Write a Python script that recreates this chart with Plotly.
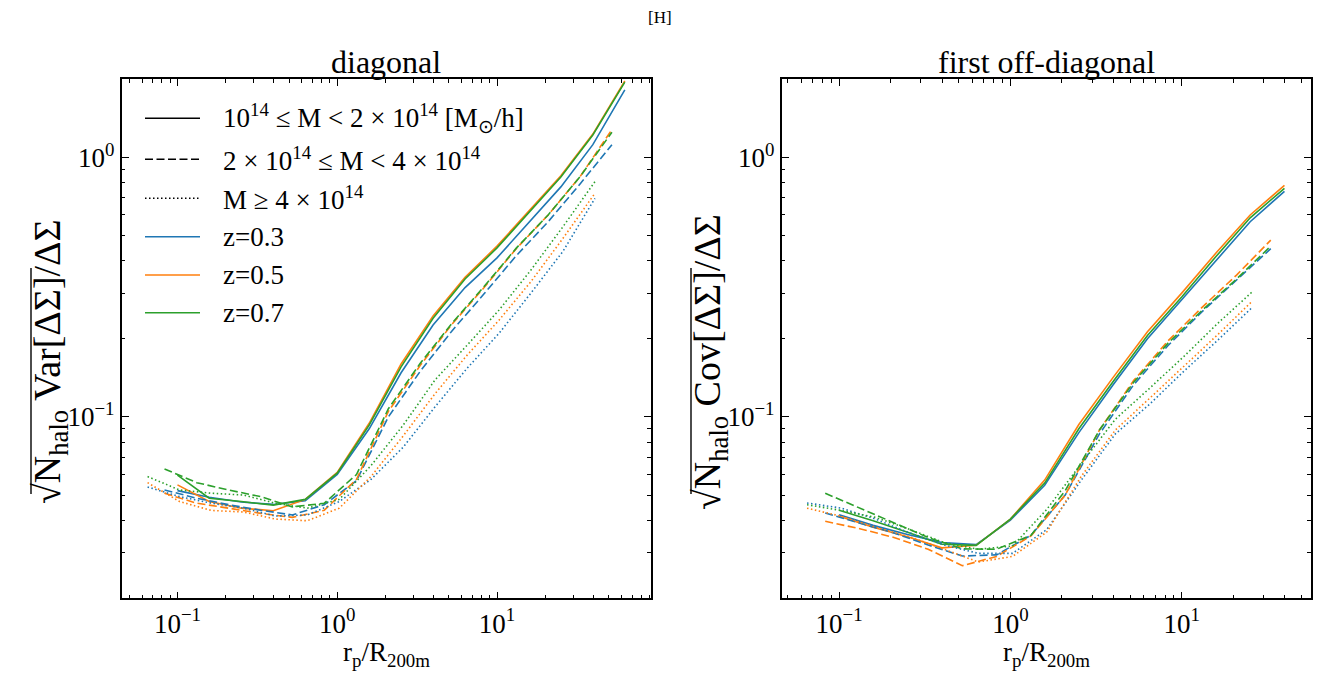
import plotly.graph_objects as go

# ---------------- data ----------------
# radial bins (r_p / R200m) for the three mass bins
x_m1 = [0.1, 0.158, 0.251, 0.398, 0.631, 1.0, 1.585, 2.51, 3.98, 6.31, 10.0, 15.85, 25.1, 39.8, 63.1]
x_m2 = [0.083, 0.132, 0.209, 0.331, 0.524, 0.83, 1.32, 2.09, 3.31, 5.24, 8.3, 13.2, 20.9, 33.1, 52.4]
x_m3 = [0.065, 0.103, 0.163, 0.259, 0.41, 0.65, 1.03, 1.63, 2.59, 4.1, 6.5, 10.3, 16.3, 25.9, 41.0]

# diagonal: sqrt(N Var)/DeltaSigma
diag_m1_z03 = [0.052, 0.049, 0.047, 0.046, 0.0475, 0.060, 0.090, 0.148, 0.226, 0.315, 0.410, 0.560, 0.770, 1.12, 1.82]
diag_m1_z05 = [0.0547, 0.0472, 0.0445, 0.0435, 0.0481, 0.0611, 0.0945, 0.160, 0.245, 0.345, 0.455, 0.620, 0.850, 1.23, 1.97]
diag_m1_z07 = [0.0597, 0.0486, 0.0472, 0.0457, 0.0481, 0.0607, 0.093, 0.156, 0.240, 0.340, 0.448, 0.611, 0.840, 1.22, 1.95]
diag_m2_z03 = [0.0523, 0.0486, 0.0459, 0.0437, 0.0419, 0.0459, 0.0568, 0.100, 0.150, 0.215, 0.298, 0.418, 0.565, 0.790, 1.12]
diag_m2_z05 = [0.0508, 0.0465, 0.0445, 0.0425, 0.041, 0.0437, 0.0575, 0.105, 0.158, 0.228, 0.315, 0.445, 0.600, 0.843, 1.28]
diag_m2_z07 = [0.063, 0.0558, 0.0523, 0.0493, 0.0450, 0.0465, 0.060, 0.1075, 0.161, 0.230, 0.318, 0.447, 0.600, 0.843, 1.25]
diag_m3_z03 = [0.0537, 0.0493, 0.0465, 0.0445, 0.0415, 0.0419, 0.0472, 0.0575, 0.0765, 0.1095, 0.154, 0.210, 0.300, 0.435, 0.695]
diag_m3_z05 = [0.0558, 0.0472, 0.0436, 0.0430, 0.0404, 0.0398, 0.0445, 0.059, 0.0845, 0.123, 0.173, 0.236, 0.332, 0.488, 0.727]
diag_m3_z07 = [0.0589, 0.0523, 0.0508, 0.0500, 0.0465, 0.0445, 0.0481, 0.065, 0.093, 0.139, 0.189, 0.258, 0.368, 0.541, 0.806]

# first off-diagonal: sqrt(N Cov)/DeltaSigma
off_m1_z03 = [0.0420, 0.0382, 0.0352, 0.0328, 0.0322, 0.0400, 0.0545, 0.087, 0.133, 0.200, 0.283, 0.400, 0.565, 0.74]
off_m1_z05 = [0.0414, 0.0376, 0.0345, 0.0313, 0.0320, 0.0404, 0.0571, 0.0935, 0.142, 0.213, 0.300, 0.428, 0.600, 0.78]
off_m1_z07 = [0.0437, 0.0398, 0.0359, 0.0323, 0.0320, 0.0404, 0.0556, 0.090, 0.137, 0.206, 0.290, 0.415, 0.585, 0.76]
off_m2_z03 = [0.0426, 0.0391, 0.0357, 0.0321, 0.0291, 0.0294, 0.0350, 0.050, 0.086, 0.133, 0.188, 0.255, 0.338, 0.445]
off_m2_z05 = [0.0396, 0.0371, 0.0343, 0.0309, 0.0267, 0.0290, 0.0348, 0.050, 0.089, 0.138, 0.196, 0.265, 0.352, 0.48]
off_m2_z07 = [0.0508, 0.0445, 0.0391, 0.0343, 0.0310, 0.0309, 0.0350, 0.052, 0.089, 0.136, 0.192, 0.258, 0.340, 0.455]
off_m3_z03 = [0.0466, 0.0445, 0.0404, 0.0357, 0.0321, 0.0298, 0.0298, 0.0368, 0.057, 0.086, 0.112, 0.150, 0.198, 0.265]
off_m3_z05 = [0.0445, 0.0414, 0.0376, 0.0345, 0.0309, 0.0276, 0.0290, 0.0360, 0.059, 0.089, 0.118, 0.157, 0.208, 0.280]
off_m3_z07 = [0.0459, 0.0436, 0.0410, 0.0368, 0.0328, 0.0309, 0.0318, 0.0440, 0.066, 0.098, 0.129, 0.171, 0.230, 0.304]

z_labels = ["z=0.3", "z=0.5", "z=0.7"]
mass_labels = [
    "10<sup>14</sup> ≤ M &lt; 2 × 10<sup>14</sup> [M<sub>⊙</sub>/h]",
    "2 × 10<sup>14</sup> ≤ M &lt; 4 × 10<sup>14</sup>",
    "M ≥ 4 × 10<sup>14</sup>",
]
x_tick_vals = [0.1, 1, 10]
x_tick_text = ["10<sup>−1</sup>", "10<sup>0</sup>", "10<sup>1</sup>"]
y_tick_vals = [0.1, 1]
y_tick_text = ["10<sup>−1</sup>", "10<sup>0</sup>"]

# ---------------- styles ----------------
PAGE_W, PAGE_H, OFF = 1325, 682, 8          # page size and html body margin
W, H = PAGE_W - 2 * OFF, PAGE_H - 2 * OFF   # figure size
colors = ["#1f77b4", "#ff7f0e", "#2ca02c"]
dashes = ["solid", "8px,3.5px", "1.5px,2.5px"]
FONT = "Liberation Serif"
LW = 1.6

xs = [x_m1, x_m2, x_m3]
diag = [[diag_m1_z03, diag_m1_z05, diag_m1_z07],
        [diag_m2_z03, diag_m2_z05, diag_m2_z07],
        [diag_m3_z03, diag_m3_z05, diag_m3_z07]]
off = [[off_m1_z03, off_m1_z05, off_m1_z07],
       [off_m2_z03, off_m2_z05, off_m2_z07],
       [off_m3_z03, off_m3_z05, off_m3_z07]]

fig = go.Figure()
for m in range(3):
    for z in range(3):
        fig.add_trace(go.Scatter(x=xs[m], y=diag[m][z], mode="lines", xaxis="x", yaxis="y",
                                 line=dict(color=colors[z], width=LW, dash=dashes[m]),
                                 showlegend=False, name=z_labels[z]))
for m in range(3):
    for z in range(3):
        fig.add_trace(go.Scatter(x=xs[m][:len(off[m][z])], y=off[m][z], mode="lines", xaxis="x2", yaxis="y2",
                                 line=dict(color=colors[z], width=LW, dash=dashes[m]),
                                 showlegend=False, name=z_labels[z]))


def px(v):
    return (v - OFF) / W


def py(v):
    return 1 - (v - OFF) / H


axis_common = dict(type="log", showline=True, linecolor="black", linewidth=1.6, mirror="allticks",
                   ticks="inside", ticklen=7, tickwidth=1.2, tickcolor="black",
                   showgrid=False, zeroline=False,
                   tickfont=dict(family=FONT, size=27, color="black"),
                   minor=dict(ticks="inside", ticklen=3.5, tickwidth=1, tickcolor="black", dtick="D1", showgrid=False))

ydom = [py(598.3), py(79.3)]
fig.update_layout(
    width=W, height=H, margin=dict(l=0, r=0, t=0, b=0),
    paper_bgcolor="white", plot_bgcolor="white", showlegend=False,
    xaxis=dict(domain=[px(121.7), px(650.7)], range=[-1.349, 1.962], anchor="y",
               tickvals=x_tick_vals, ticktext=x_tick_text, automargin=False, **axis_common),
    yaxis=dict(domain=ydom, range=[-1.699, 0.301], anchor="x",
               tickvals=y_tick_vals, ticktext=y_tick_text, automargin=False, **axis_common),
    xaxis2=dict(domain=[px(781.7), px(1310.7)], range=[-1.335, 1.753], anchor="y2",
                tickvals=x_tick_vals, ticktext=x_tick_text, automargin=False, **axis_common),
    yaxis2=dict(domain=ydom, range=[-1.699, 0.301], anchor="x2",
                tickvals=y_tick_vals, ticktext=y_tick_text, automargin=False, **axis_common),
)

ann = []
shapes = []


def text(t, x, y, size, **kw):
    d = dict(text=t, x=px(x), y=py(y), xref="paper", yref="paper", showarrow=False,
             xanchor="center", yanchor="middle", font=dict(family=FONT, size=size, color="black"))
    d.update(kw)
    ann.append(d)


text("[H]", 660, 18, 17)
text("diagonal", 386.2, 62, 32)
text("first off-diagonal", 1046.2, 62, 32)
for cx in (386.2, 1046.2):
    text("r<sub>p</sub>/R<sub>200m</sub>", cx, 654, 27)

# y-axis titles (rotated) with radical overline
YL_SIZE = 38
for cx, word, ox in ((50, "Var", 31), (710, "Cov", 691)):
    text("√N<sub>halo</sub> " + word + "[ΔΣ]/ΔΣ", cx, 362, YL_SIZE, textangle=-90)
    shapes.append(dict(type="line", xref="paper", yref="paper", x0=px(ox), x1=px(ox),
                       y0=py(494), y1=py(268), line=dict(color="black", width=1.4)))

# legend (drawn inside left panel)
rows = [118.3, 159.3, 198.3, 236.7, 275.0, 312.7]
leg_items = [("black", dashes[0], mass_labels[0]), ("black", dashes[1], mass_labels[1]),
             ("black", dashes[2], mass_labels[2]), (colors[0], "solid", z_labels[0]),
             (colors[1], "solid", z_labels[1]), (colors[2], "solid", z_labels[2])]
for ry, (c, d, t) in zip(rows, leg_items):
    shapes.append(dict(type="line", xref="paper", yref="paper", x0=px(145), x1=px(200), y0=py(ry), y1=py(ry),
                       line=dict(color=c, width=LW, dash=d)))
    text(t, 221, ry, 27, xanchor="left")

fig.update_layout(annotations=ann, shapes=shapes)
fig.write_html("out.html")
